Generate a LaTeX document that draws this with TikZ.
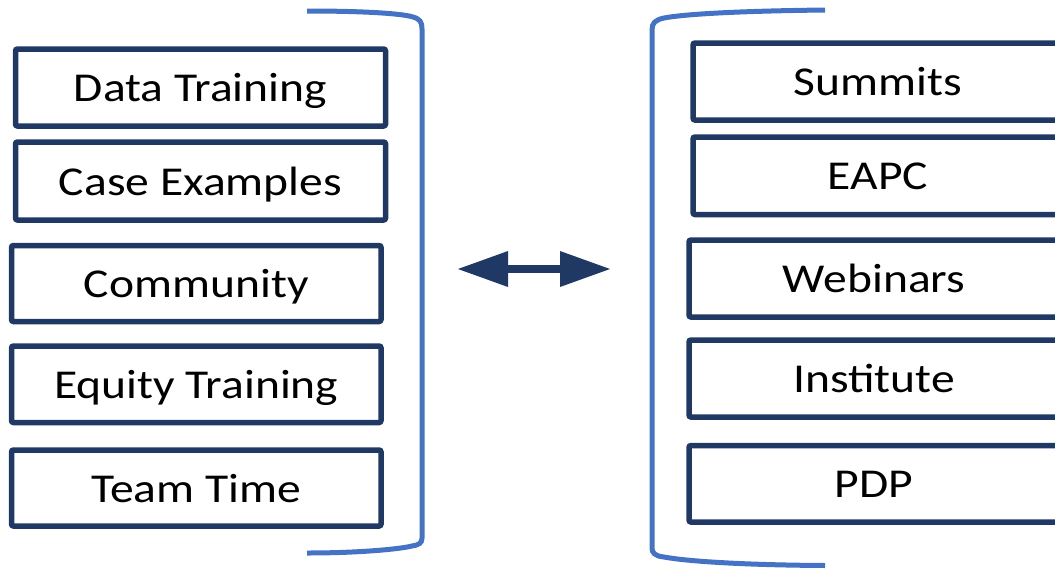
\documentclass[tikz,border=0pt]{standalone}
\usepackage{fontspec}
\usetikzlibrary{arrows.meta}
\newfontfamily\boxfont[FakeStretch=1.16]{Carlito}
\definecolor{navy}{RGB}{31,56,100}
\definecolor{brackblue}{RGB}{68,114,196}
\tikzset{
  x=1pt, y=1pt,
  itembox/.style={draw=navy, line width=5.5pt, rounded corners=2pt,
    minimum width=370pt, minimum height=77pt, inner sep=0pt,
    font=\boxfont\fontsize{41}{48}\selectfont,
    text height=30pt, text depth=2pt},
  brack/.style={draw=brackblue, line width=5pt},
  link/.style={draw=navy, line width=8pt,
    {Triangle[length=50pt,width=36pt,line width=0pt 0]}-{Triangle[length=50pt,width=36pt,line width=0pt 0]}}
}
\begin{document}
\begin{tikzpicture}
\useasboundingbox (0,0) rectangle (1055,-568);

% left column
\node[itembox] (dt) at (200.5,-87.5) {Data Training};
\node[itembox, minimum height=78pt] (ce) at (200.5,-181) {Case Examples};
\node[itembox, minimum width=369.5pt, minimum height=76pt] (co) at (196.25,-283.5) {Community};
\node[itembox, minimum width=369.5pt, minimum height=76.5pt] (et) at (196.25,-384.25) {Equity Training};
\node[itembox, minimum width=369.5pt, minimum height=76pt] (tt) at (196.25,-488) {Team Time};

% right column
\node[itembox] (su) at (878,-81.5) {Summits};
\node[itembox, minimum height=77.5pt] (ea) at (878,-175.75) {EAPC};
\node[itembox] (we) at (874,-278.5) {Webinars};
\node[itembox] (in) at (874,-378.5) {Institute};
\node[itembox, minimum height=76.5pt] (pd) at (874,-483.75) {PDP};

% brackets
\draw[brack] (307,-11) .. controls (370,-11) and (404,-14) .. (413,-17)
  .. controls (420,-19) and (422,-22) .. (422,-29) -- (422,-538)
  .. controls (422,-543) and (419,-545) .. (412,-546)
  .. controls (400,-549) and (360,-553) .. (307,-553);
\draw[brack] (825,-10) .. controls (740,-11) and (685,-14) .. (664,-18)
  .. controls (655,-20) and (652,-23) .. (652,-30) -- (652,-548)
  .. controls (652,-553) and (655,-556) .. (664,-557)
  .. controls (685,-561) and (740,-565) .. (825,-565.5);

% double arrow between the columns
\coordinate (al) at (458,-269);
\coordinate (ar) at (610,-269);
\draw[link] (al) -- (ar);
\end{tikzpicture}
\end{document}
